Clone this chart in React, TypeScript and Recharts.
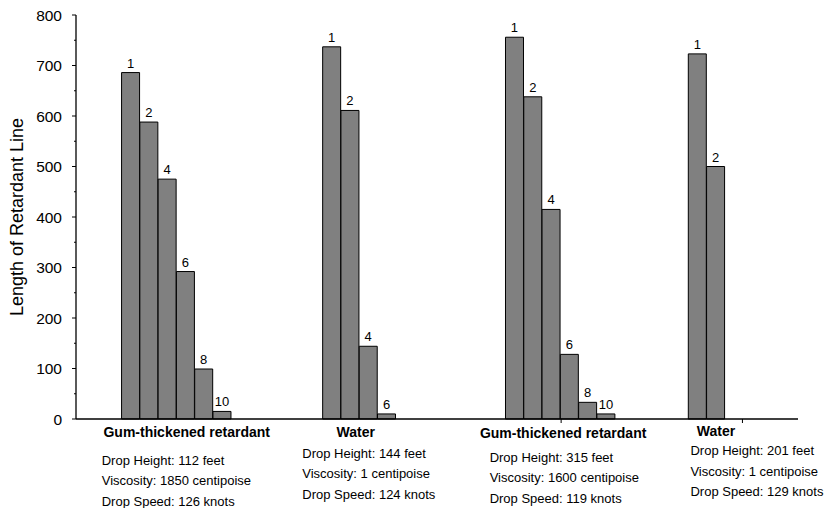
import { BarChart, Bar, XAxis, YAxis, LabelList } from 'recharts'

// coverage levels (label above each bar) and length of retardant line per drop
const levels1 = ['1', '2', '4', '6', '8', '10']
const lengths1 = [686, 588, 475, 292, 99, 15]

const levels2 = ['1', '2', '4', '6']
const lengths2 = [737, 611, 144, 10]

const levels3 = ['1', '2', '4', '6', '8', '10']
const lengths3 = [756, 638, 415, 128, 33, 10]

const levels4 = ['1', '2']
const lengths4 = [723, 500]

const groupNames = ['Gum-thickened retardant', 'Water', 'Gum-thickened retardant', 'Water']
const dropHeights = ['Drop Height: 112 feet', 'Drop Height: 144 feet', 'Drop Height: 315 feet', 'Drop Height: 201 feet']
const viscosities = ['Viscosity: 1850 centipoise', 'Viscosity: 1 centipoise', 'Viscosity: 1600 centipoise', 'Viscosity: 1 centipoise']
const dropSpeeds = ['Drop Speed: 126 knots', 'Drop Speed: 124 knots', 'Drop Speed: 119 knots', 'Drop Speed: 129 knots']

const yTicks = [0, 50, 100, 150, 200, 250, 300, 350, 400, 450, 500, 550, 600, 650, 700, 750, 800]

// empty slots before each group, and after the last one
const gapBefore = [2, 5, 6, 4]
const gapAfter = 4

// text placement under each group, relative to the first bar of the group
const groupLayout = [
  { nameDx: 56, nameDy: 18, detailDx: -29, detailDy: 45.5, tick: null },
  { nameDx: 24, nameDy: 18, detailDx: -29.5, detailDy: 38.5, tick: null },
  { nameDx: 48.5, nameDy: 18.5, detailDx: -25, detailDy: 42.5, tick: 46.5 },
  { nameDx: 18.5, nameDy: 17, detailDx: -7, detailDy: 36, tick: 45 },
]

const groups = [
  { levels: levels1, lengths: lengths1 },
  { levels: levels2, lengths: lengths2 },
  { levels: levels3, lengths: lengths3 },
  { levels: levels4, lengths: lengths4 },
]

type Slot = { slot: string; level?: string; length: number | null }

const slots: Slot[] = []
const groupOfSlot: Record<string, number> = {}
let n = 0
const addSpacers = (k: number) => {
  for (let i = 0; i < k; i++) slots.push({ slot: `s${n++}`, length: null })
}
groups.forEach((g, gi) => {
  addSpacers(gapBefore[gi])
  g.levels.forEach((lv, i) => {
    const id = `s${n++}`
    if (i === 0) groupOfSlot[id] = gi
    slots.push({ slot: id, level: lv, length: g.lengths[i] })
  })
})
addSpacers(gapAfter)
const anchorSlots = Object.keys(groupOfSlot)

function GroupTick(props: any) {
  const { x, y, payload } = props
  const gi = groupOfSlot[payload.value]
  if (gi === undefined) return null
  const lay = groupLayout[gi]
  const lines = [dropHeights[gi], viscosities[gi], dropSpeeds[gi]]
  return (
    <g>
      {lay.tick != null && (
        <line x1={x + lay.tick} x2={x + lay.tick} y1={y} y2={y + 4} stroke="#000" strokeWidth={1} />
      )}
      <text x={x + lay.nameDx} y={y + lay.nameDy} textAnchor="middle" fontSize={14} fontWeight="bold" fill="#000">
        {groupNames[gi]}
      </text>
      {lines.map((t, i) => (
        <text key={i} x={x + lay.detailDx} y={y + lay.detailDy + i * 20.5} fontSize={13} fill="#000">
          {t}
        </text>
      ))}
    </g>
  )
}

function YTick(props: any) {
  const { x, y, payload } = props
  const v = payload.value
  const major = v % 100 === 0
  const axisX = x + 14
  return (
    <g>
      <line x1={axisX - (major ? 4 : 2)} x2={axisX} y1={y} y2={y} stroke="#000" strokeWidth={1} />
      {major && (
        <text x={x} y={y} dy={5.5} textAnchor="end" fontSize={15.5} fill="#000">
          {v}
        </text>
      )}
    </g>
  )
}

function YTitle(props: any) {
  const { viewBox } = props
  const cx = viewBox.x + 17
  const cy = viewBox.y + viewBox.height / 2
  return (
    <text x={cx} y={cy} textAnchor="middle" dominantBaseline="central" fontSize={18} fill="#000" transform={`rotate(-90, ${cx}, ${cy})`}>
      Length of Retardant Line
    </text>
  )
}

export default function App() {
  return (
    <div style={{ position: 'absolute', left: 0, top: 0, background: '#fff', fontFamily: '"Liberation Sans", Arial, sans-serif' }}>
      <BarChart
        width={825}
        height={508}
        data={slots}
        margin={{ top: 15, right: 27, left: 0, bottom: 0 }}
        barCategoryGap={0}
        barGap={0}
      >
        <XAxis
          dataKey="slot"
          ticks={anchorSlots}
          interval={0}
          tick={<GroupTick />}
          tickLine={false}
          tickSize={0}
          tickMargin={0}
          height={89}
          padding={{ left: 9, right: 0 }}
          axisLine={{ stroke: '#000', strokeWidth: 1.3 }}
        />
        <YAxis
          domain={[0, 800]}
          ticks={yTicks}
          interval={0}
          width={76}
          tick={<YTick />}
          tickLine={false}
          tickSize={4}
          tickMargin={10}
          axisLine={{ stroke: '#000', strokeWidth: 1.3 }}
          label={{ content: <YTitle /> }}
        />
        <Bar dataKey="length" fill="#808080" stroke="#000" strokeWidth={1} isAnimationActive={false}>
          <LabelList dataKey="level" position="top" offset={5} fontSize={13} fill="#000" />
        </Bar>
      </BarChart>
    </div>
  )
}
